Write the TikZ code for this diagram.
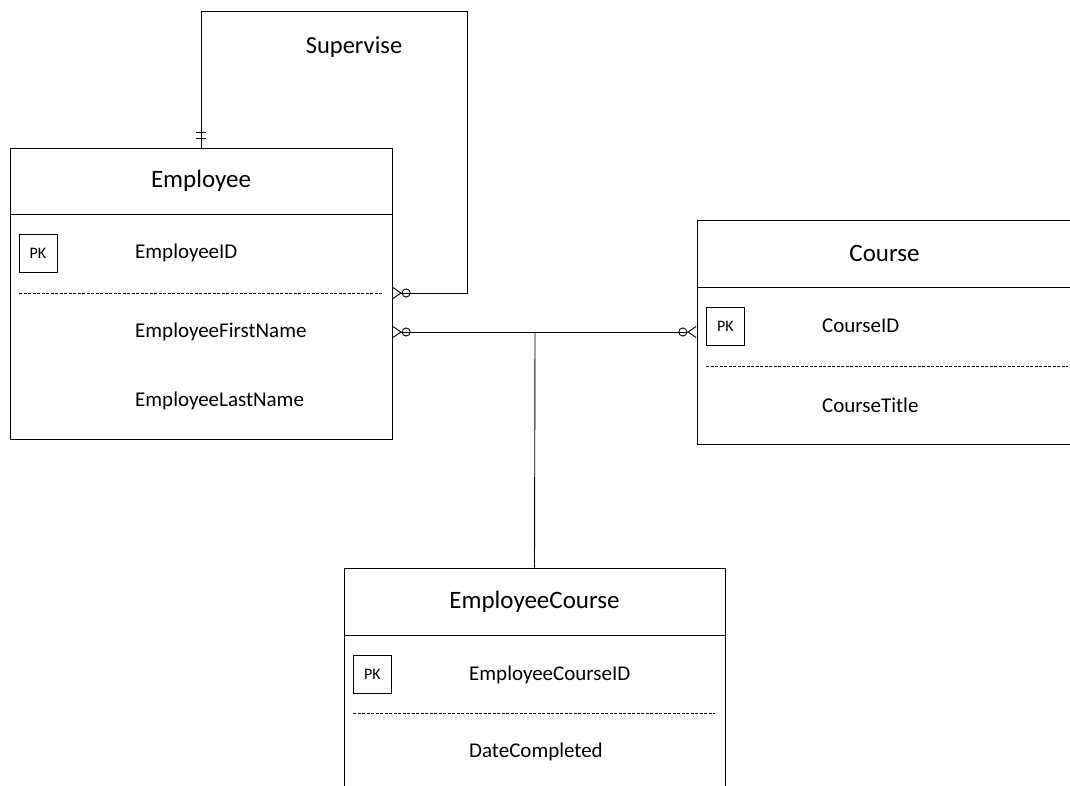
\documentclass[tikz,border=0pt]{standalone}
\usepackage{fontspec}
\setmainfont{Carlito}
\usetikzlibrary{arrows.meta}

\tikzset{
 tablehead/.style={draw,line width=0.9pt,minimum width=382pt,minimum height=66pt,inner sep=0pt,font=\fontsize{25}{28}\selectfont},
 tablebody/.style={draw,line width=0.9pt,minimum width=382pt,inner sep=0pt},
 pkbox/.style={draw,line width=0.8pt,minimum width=38pt,minimum height=38pt,inner sep=0pt,font=\fontsize{16}{19}\selectfont},
 attr/.style={anchor=west,inner sep=0pt,font=\fontsize{21}{24}\selectfont},
 sep/.style={dashed,dash pattern=on 3pt off 1.5pt,line width=0.8pt},
 zeromany/.style={-{Circle[open,length=9pt,width=9pt,sep=0pt]Straight Barb[reversed,length=8pt,width=11pt]},line width=0.9pt}
}

\begin{document}
\begin{tikzpicture}[x=1pt,y=-1pt]
 \useasboundingbox (0,0) rectangle (1070,786);
 % Employee
 \node[tablehead] (emp) at (201,181) {Employee};
 \node[tablebody,minimum height=225pt] (empbody) at (201,326.5) {};
 \node[pkbox] (pk1) at (38,253) {PK};
 \node[attr] (empid) at (135,253) {EmployeeID};
 \node[attr] (empfirst) at (135,332) {EmployeeFirstName};
 \node[attr] (emplast) at (135,401) {EmployeeLastName};
 \draw[sep] (19,293) -- (382,293);
 % Course
 \node[tablehead,minimum width=375pt,minimum height=67pt] (crs) at (884.5,253.5) {Course};
 \node[tablebody,minimum width=375pt,minimum height=157pt] (crsbody) at (884.5,365.5) {};
 \node[pkbox] (pk2) at (725.5,326) {PK};
 \node[attr] (crsid) at (822,326) {CourseID};
 \node[attr] (crstitle) at (822,405) {CourseTitle};
 \draw[sep] (706,366) -- (1068,366);
 % EmployeeCourse
 \node[tablehead,minimum width=381pt,minimum height=67pt] (ec) at (534.5,601.5) {EmployeeCourse};
 \node[tablebody,minimum width=381pt,minimum height=166pt] (ecbody) at (534.5,718) {};
 \node[pkbox] (pk3) at (372.5,674.5) {PK};
 \node[attr] (ecid) at (469,675) {EmployeeCourseID};
 \node[attr] (ecdate) at (469,752) {DateCompleted};
 \draw[sep] (353,713) -- (715,713);
 % Supervise
 \coordinate (s1) at (201,11);
 \coordinate (s2) at (467,11);
 \coordinate (s3) at (467,293);
 \node[font=\fontsize{24.5}{28}\selectfont] (sup) at (354,47) {Supervise};
 \draw[zeromany] (emp.north) -- (s1) -- (s2) -- (s3) -- (empbody.east |- s3);
 \draw[line width=0.9pt] (196,132) -- (206,132);
 \draw[line width=0.9pt] (196,138) -- (206,138);
 % takes
 \coordinate (j) at (535,332);
 \draw[zeromany] (j) -- (empbody.east |- j);
 \draw[zeromany] (j) -- (crsbody.west |- j);
 \draw[line width=0.9pt] (j) -- (ec.north);
\end{tikzpicture}
\end{document}
